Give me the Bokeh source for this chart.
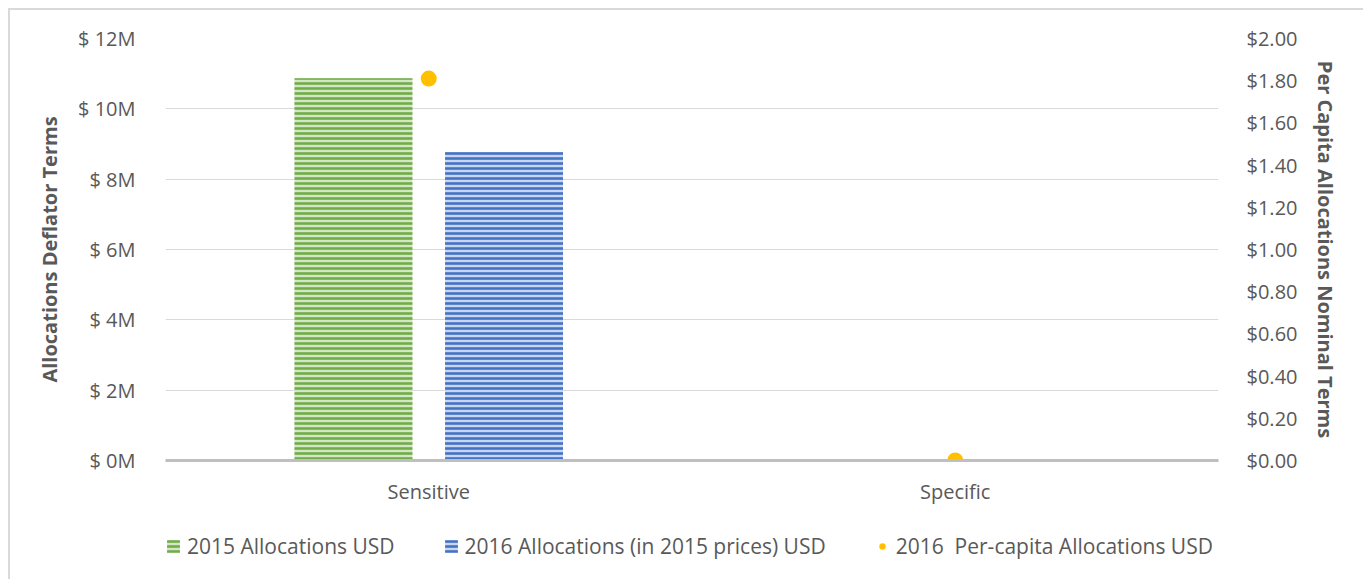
from bokeh.plotting import figure
from bokeh.layouts import column
from bokeh.models import (FactorRange, Range1d, LinearAxis, Legend, LegendItem,
                          ColumnDataSource, FixedTicker, NumeralTickFormatter)
from bokeh.transform import dodge
from bokeh.embed import file_html
from bokeh.resources import INLINE

categories = ["Sensitive", "Specific"]
alloc_2015 = [10870000, 30000]
alloc_2016 = [8770000, 25000]
per_capita_2016 = [1.81, 0.0]
series_names = ["2015 Allocations USD", "2016 Allocations (in 2015 prices) USD",
                "2016  Per-capita Allocations USD"]

left_ticks = [0, 2e6, 4e6, 6e6, 8e6, 10e6, 12e6]
left_labels = ["$ 0M", "$ 2M", "$ 4M", "$ 6M", "$ 8M", "$ 10M", "$ 12M"]
right_ticks = [0.0, 0.2, 0.4, 0.6, 0.8, 1.0, 1.2, 1.4, 1.6, 1.8, 2.0]

FONT = "Open Sans"
TXT = "#595959"
GREEN = dict(fill_color="#d3e6c6", line_color=None, hatch_pattern="horizontal_line",
             hatch_color="#70ad47", hatch_weight=2.6, hatch_scale=5)
BLUE = dict(fill_color="#c9d6ef", line_color=None, hatch_pattern="horizontal_line",
            hatch_color="#4472c4", hatch_weight=2.6, hatch_scale=5)
DOT = dict(fill_color="#ffc000", line_color=None)

src = ColumnDataSource(dict(cat=categories, a15=alloc_2015, a16=alloc_2016, pc=per_capita_2016))

p = figure(x_range=FactorRange(*categories, range_padding=0), y_range=Range1d(0, 12e6),
           width=1353, height=497, output_backend="svg", toolbar_location=None,
           min_border_left=155, min_border_right=145, min_border_top=28, min_border_bottom=46)
p.outline_line_color = None
p.extra_y_ranges = {"pc": Range1d(0, 2)}

r1 = p.vbar(x=dodge("cat", -0.143, range=p.x_range), top="a15", width=0.224, source=src, **GREEN)
r2 = p.vbar(x=dodge("cat", 0.143, range=p.x_range), top="a16", width=0.224, source=src, **BLUE)
r3 = p.scatter(x="cat", y="pc", source=src, y_range_name="pc", size=16, **DOT)

p.xgrid.grid_line_color = None
p.ygrid.grid_line_color = "#d9d9d9"
p.ygrid.grid_line_width = 1.2

yax = p.yaxis[0]
yax.ticker = FixedTicker(ticks=left_ticks)
yax.major_label_overrides = {t: l for t, l in zip(left_ticks, left_labels)}
yax.axis_label = "Allocations Deflator Terms"
yax.axis_line_color = None
yax.major_tick_line_color = None
yax.minor_tick_line_color = None
yax.major_label_standoff = 24
yax.axis_label_standoff = 12

rax = LinearAxis(y_range_name="pc", ticker=FixedTicker(ticks=right_ticks),
                 formatter=NumeralTickFormatter(format="$0.00"),
                 axis_label="Per Capita Allocations Nominal Terms")
rax.axis_line_color = None
rax.major_tick_line_color = None
rax.minor_tick_line_color = None
rax.major_label_standoff = 22
rax.axis_label_standoff = 12
p.add_layout(rax, "right")

xax = p.xaxis[0]
xax.axis_line_color = "#bfbfbf"
xax.axis_line_width = 3
xax.major_tick_line_color = None
xax.minor_tick_line_color = None
xax.major_label_standoff = 11

for ax in [yax, rax, xax]:
    ax.major_label_text_font = FONT
    ax.major_label_text_font_size = "20px"
    ax.major_label_text_color = TXT
    ax.axis_label_text_font = FONT
    ax.axis_label_text_font_size = "20px"
    ax.axis_label_text_font_style = "bold"
    ax.axis_label_text_color = TXT

# legend strip below the chart (its glyphs sit outside the visible range)
lg = figure(width=1353, height=72, output_backend="svg", toolbar_location=None,
            x_range=Range1d(0, 1), y_range=Range1d(0, 1), min_border=0)
lg.outline_line_color = None
lg.axis.visible = False
lg.grid.visible = False
off = ColumnDataSource(dict(x=[-10], y=[-10]))
l1 = lg.vbar(x="x", top="y", width=0.1, source=off, **GREEN)
l2 = lg.vbar(x="x", top="y", width=0.1, source=off, **BLUE)
l3 = lg.scatter(x="x", y="y", size=12, source=off, **DOT)

legend = Legend(items=[LegendItem(label=n, renderers=[r]) for n, r in zip(series_names, [l1, l2, l3])],
                orientation="horizontal", location=(0, 19))
legend.label_text_font = FONT
legend.label_text_font_size = "21px"
legend.label_text_color = TXT
legend.border_line_color = None
legend.background_fill_alpha = 0
legend.spacing = 48
legend.glyph_width = 16
legend.glyph_height = 16
legend.label_standoff = 6
legend.margin = 0
legend.padding = 0
lg.add_layout(legend, "center")

layout = column(p, lg, spacing=0)
layout.margin = (8, 0, 0, 8)
layout.styles = {"border-left": "2px solid #d9d9d9", "border-top": "2px solid #d9d9d9"}

open("out.html", "w").write(file_html(layout, INLINE))
